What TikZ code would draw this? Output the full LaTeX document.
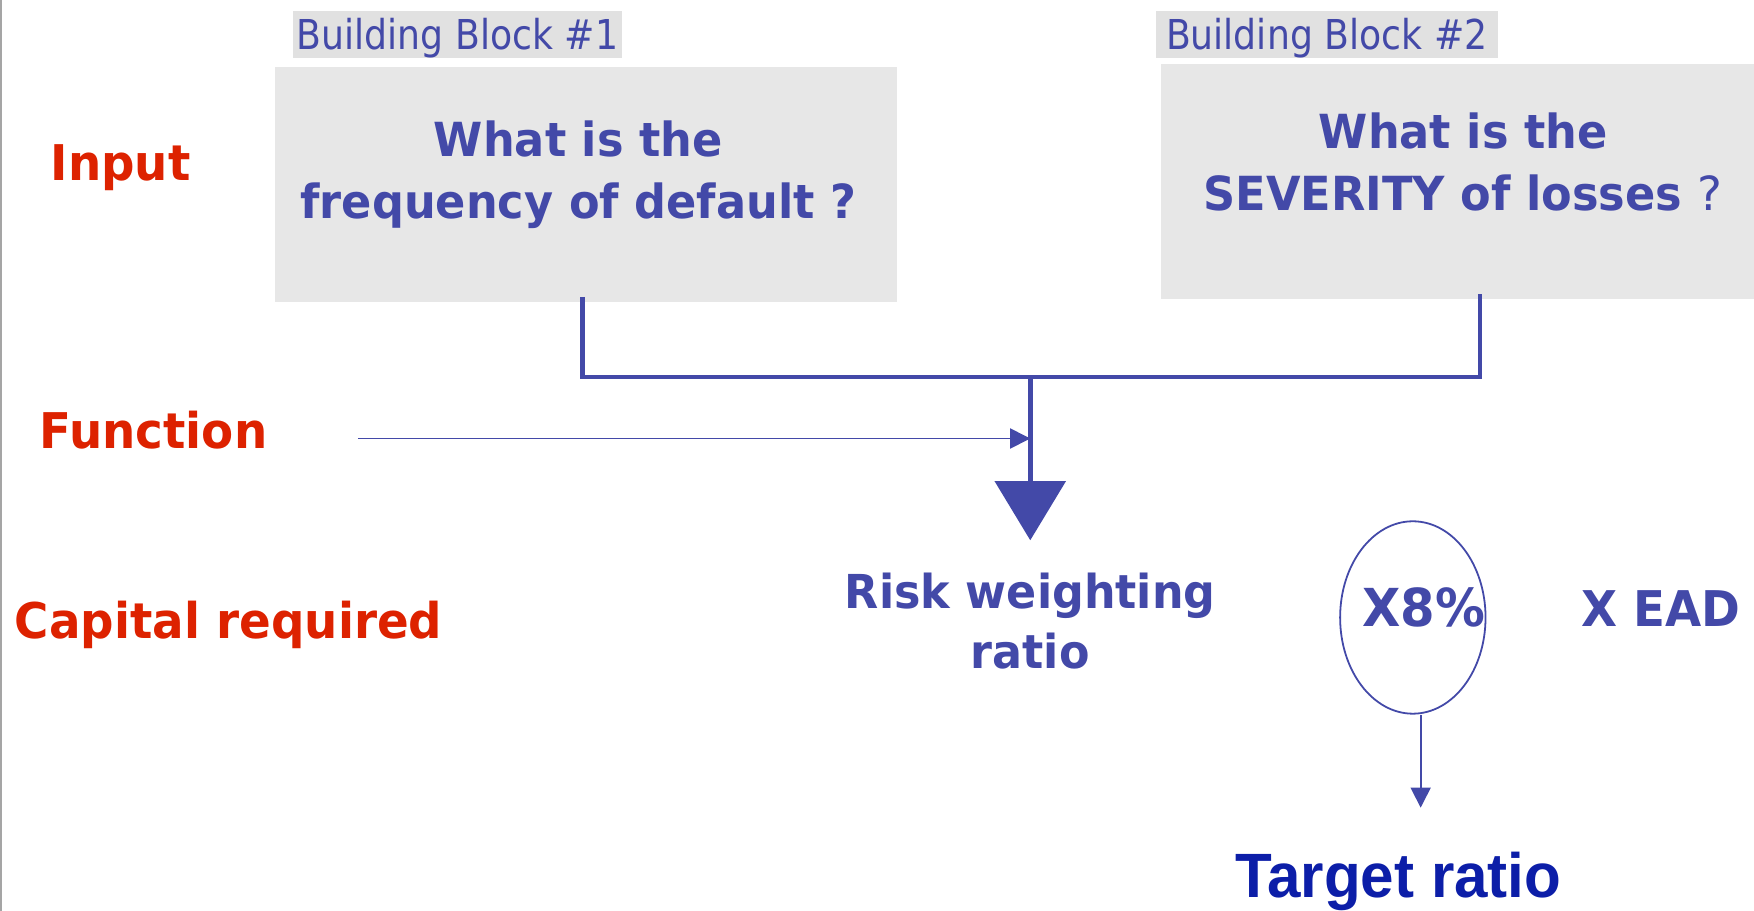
\documentclass[tikz,border=0pt]{standalone}
\usepackage{fontspec}
\setmainfont{DejaVu Sans}
\newfontfamily\boldface[FakeStretch=0.95]{DejaVu Sans Bold}
\newfontfamily\plainface[FakeStretch=0.88]{DejaVu Sans}
\newfontfamily\plainq{DejaVu Sans}
\newfontfamily\narrowface[FakeStretch=0.96]{Liberation Sans Bold}
\usetikzlibrary{arrows.meta,shapes.geometric}
\definecolor{ink}{RGB}{67,73,168}
\definecolor{alert}{RGB}{221,34,0}
\definecolor{deep}{RGB}{12,30,168}
\definecolor{panel}{RGB}{231,231,231}
\definecolor{tag}{RGB}{225,225,225}
\definecolor{edge}{RGB}{165,165,165}
\begin{document}
\begin{tikzpicture}[x=0.5pt,y=-0.5pt,
  qbox/.style={rectangle, fill=panel, inner sep=0pt},
  tagbox/.style={rectangle, fill=tag, inner sep=0pt, minimum height=21pt,
    text=ink, font=\plainface\fontsize{18.4}{20}\selectfont,
    text height=13.4pt, text depth=0pt},
  qtext/.style={text=ink, font=\boldface\fontsize{21}{25}\selectfont,
    inner sep=0pt, anchor=base},
  side/.style={text=alert, font=\boldface\fontsize{22}{26}\selectfont,
    inner sep=0pt, anchor=base west},
  result/.style={text=ink, font=\boldface\fontsize{20.9}{24}\selectfont,
    inner sep=0pt, anchor=base},
  factor/.style={text=ink, font=\boldface\fontsize{22}{26}\selectfont,
    inner sep=0pt},
  bus/.style={draw=ink, line width=2.1pt},
  feed/.style={draw=ink, line width=0.75pt, -{Triangle[length=9pt,width=9pt]}},
  ring/.style={ellipse, draw=ink, line width=0.8pt, minimum width=65pt,
    minimum height=86pt, inner sep=0pt}
]
\useasboundingbox (0,0) rectangle (1568,814);

% left margin rule
\fill[edge] (0,0) rectangle (2,814);

% building block tags
\node[tagbox, minimum width=147pt] (tag1) at (409,31) {Building Block \#1};
\node[tagbox, minimum width=153pt] (tag2) at (1186,31) {Building Block \#2};

% question panels
\node[qbox, minimum width=278pt, minimum height=105pt] (box1) at (524,165) {};
\node[qbox, minimum width=265pt, minimum height=105pt] (box2) at (1303,162) {};
\node[qtext] (q1a) at (517,140) {What is the};
\node[qtext] (q1b) at (517,195) {frequency of default ?};
\node[qtext] (q2a) at (1308,133) {What is the};
\node[qtext] (q2b) at (1308,188) {SEVERITY of losses {\plainq ?}};

% row labels
\node[side] (input) at (45,161) {Input};
\node[side] (func) at (35,401) {Function};
\node[side] (cap) at (13,571) {Capital required};

% merging bus and main arrow
\coordinate (join) at (921,337);
\coordinate (tip) at (921,483);
\draw[bus] ([xshift=-1.5pt,yshift=2.5pt]box1.south) |- (join)
  -| ([xshift=10pt,yshift=2.5pt]box2.south);
\draw[bus, -{Triangle[length=26.5pt,width=31.5pt]}] (join) -- (tip);

% function feed
\coordinate (fstart) at (320,392);
\draw[feed] (fstart) -- (fstart -| join);

% result
\node[result] (rw1) at (921,544) {Risk weighting};
\node[result] (rw2) at (921,598) {ratio};

% multipliers
\node[ring] (ring) at (1263,552) {};
\node[factor, anchor=base, font=\boldface\fontsize{23.4}{27}\selectfont] (x8) at (1273,560) {X8\%};
\node[factor, anchor=base west] (ead) at (1413,560) {X EAD};

% target
\coordinate (drop) at (1270,722);
\draw[feed] ([xshift=3.5pt]ring.south) -- (drop);
\node[anchor=base, text=deep, font=\narrowface\fontsize{28}{32}\selectfont,
  inner sep=0pt] (target) at (1250,802) {Target ratio};
\end{tikzpicture}
\end{document}
